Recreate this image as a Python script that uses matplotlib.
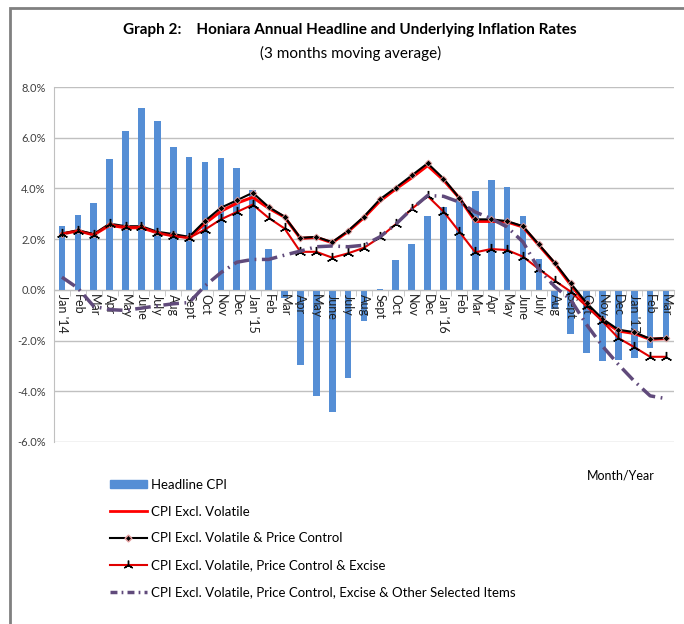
import matplotlib.pyplot as plt
import numpy as np
from matplotlib.lines import Line2D
from matplotlib.patches import Rectangle
import matplotlib.ticker as ticker

plt.rcParams['font.family'] = ['Lato', 'DejaVu Sans']

months = ["Jan '14", 'Feb', 'Mar', 'Apr', 'May', 'June', 'July', 'Aug', 'Sept', 'Oct', 'Nov', 'Dec',
          "Jan '15", 'Feb', 'Mar', 'Apr', 'May', 'June', 'July', 'Aug', 'Sept', 'Oct', 'Nov', 'Dec',
          "Jan '16", 'Feb', 'Mar', 'Apr', 'May', 'June', 'July', 'Aug', 'Sept', 'Oct', 'Nov', 'Dec',
          "Jan '17", 'Feb', 'Mar']

headline = [2.50, 2.94, 3.44, 5.15, 6.27, 7.16, 6.65, 5.63, 5.25, 5.06, 5.20, 4.81,
            3.92, 1.63, -0.33, -2.97, -4.18, -4.80, -3.49, -1.24, 0.03, 1.18, 1.82, 2.93,
            3.25, 3.60, 3.88, 4.35, 4.04, 2.90, 1.23, -0.76, -1.74, -2.50, -2.80, -2.78,
            -2.68, -2.28, -1.92]

excl_volatile = [2.20, 2.33, 2.17, 2.55, 2.45, 2.45, 2.25, 2.13, 2.06, 2.62, 3.10, 3.42,
                 3.65, 3.22, 2.87, 2.03, 2.07, 1.86, 2.30, 2.85, 3.50, 3.98, 4.42, 4.90,
                 4.33, 3.62, 2.70, 2.70, 2.68, 2.48, 1.76, 1.04, 0.20, -0.58, -1.20, -1.62,
                 -1.72, -1.95, -1.92]

excl_vol_pc = [2.22, 2.35, 2.20, 2.61, 2.51, 2.51, 2.29, 2.20, 2.09, 2.72, 3.24, 3.53,
               3.83, 3.27, 2.89, 2.05, 2.09, 1.88, 2.33, 2.89, 3.57, 4.03, 4.51, 4.99,
               4.39, 3.62, 2.78, 2.78, 2.71, 2.51, 1.79, 1.07, 0.26, -0.52, -1.14, -1.57,
               -1.67, -1.93, -1.90]

excl_vol_pc_exc = [2.22, 2.33, 2.17, 2.58, 2.48, 2.48, 2.26, 2.13, 2.05, 2.38, 2.78, 3.07,
                   3.36, 2.84, 2.42, 1.50, 1.50, 1.27, 1.44, 1.66, 2.07, 2.59, 3.19, 3.70,
                   3.09, 2.29, 1.48, 1.61, 1.57, 1.31, 0.82, 0.36, -0.07, -0.65, -1.24, -1.90,
                   -2.26, -2.64, -2.64]

excl_all = [0.50, 0.07, -0.65, -0.78, -0.81, -0.72, -0.63, -0.55, -0.50, 0.16, 0.68, 1.09,
            1.20, 1.20, 1.37, 1.53, 1.70, 1.73, 1.70, 1.76, 2.09, 2.59, 3.19, 3.72,
            3.69, 3.46, 3.07, 2.81, 2.48, 1.89, 0.81, 0.13, -0.39, -1.37, -2.22, -2.94,
            -3.60, -4.18, -4.29]

x = np.arange(len(months))

fig = plt.figure(figsize=(6.84, 6.24), dpi=100)
ax = fig.add_axes([54/684, 1-442/624, 620/684, 355/624])

# 막대 + 선
ax.bar(x, headline, width=0.42, color='#558ED5', zorder=2)
ax.plot(x, excl_volatile, color='#FF0000', lw=2.2, zorder=7)
ax.plot(x, excl_vol_pc, color='black', lw=1.5, marker='D', ms=3.5,
        mfc='black', mec='#E8A0A0', mew=0.6, zorder=8)
ax.plot(x, excl_vol_pc_exc, color='#E00000', lw=1.5, marker=(3, 2, 0), ms=8,
        mec='black', mew=1.0, zorder=8)
ax.plot(x, excl_all, color='#604A7B', lw=2.5, dashes=(4.5, 1.6, 0.5, 1.6), zorder=9)

ax.set_xlim(-0.5, len(months) - 0.5)
ax.set_ylim(-6, 8)
ax.set_yticks(np.arange(-6, 9, 2))
ax.yaxis.set_major_formatter(ticker.FuncFormatter(lambda v, p: f'{v:.1f}%'))
ax.tick_params(axis='y', length=0, labelsize=8, colors='#404040', pad=6)
ax.grid(axis='y', color='#C0C0C0', lw=1, zorder=0)

for s in ['top', 'right']:
    ax.spines[s].set_visible(False)
ax.spines['left'].set_color('#C0C0C0')
ax.spines['bottom'].set_position(('data', 0))
ax.spines['bottom'].set_color('#C0C0C0')

ax.set_xticks(x)
ax.set_xticklabels(months, rotation=-90, fontsize=9, color='#202020')
ax.set_xticks(np.arange(-0.5, len(months), 1), minor=True)
ax.tick_params(axis='x', which='major', length=0, pad=3)
ax.tick_params(axis='x', which='minor', length=4, color='#C0C0C0')
# 라벨이 막대 위에 보이도록
ax.xaxis.set_zorder(5)

fig.text(0.512, 1-30/624, 'Graph 2:    Honiara Annual Headline and Underlying Inflation Rates',
         ha='center', va='center', fontsize=11, fontweight='bold')
fig.text(0.512, 1-53/624, '(3 months moving average)', ha='center', va='center', fontsize=11)
fig.text(655/684, 1-476/624, 'Month/Year', ha='right', va='center', fontsize=9)

handles = [
    Rectangle((0, 0), 1, 1, color='#558ED5'),
    Line2D([], [], color='#FF0000', lw=2),
    Line2D([], [], color='black', lw=1.5, marker='D', ms=3.5, mfc='black', mec='#E8A0A0'),
    Line2D([], [], color='#E00000', lw=1.5, marker=(3, 2, 0), ms=7, mec='black'),
    Line2D([], [], color='#604A7B', lw=2.5, dashes=(2, 1.2, 0.5, 1.2)),
]
labels = ['Headline CPI', 'CPI Excl. Volatile', 'CPI Excl. Volatile & Price Control',
          'CPI Excl. Volatile, Price Control & Excise',
          'CPI Excl. Volatile, Price Control, Excise & Other Selected Items']
fig.legend(handles, labels, loc='upper left', bbox_to_anchor=(98/684, 1-467/624),
           frameon=False, fontsize=9.5, labelspacing=1.12, handlelength=2.8,
           handletextpad=0.3, handleheight=0.5)

# 바깥 테두리
fig.add_artist(Rectangle((10/684, -0.05), 1.1, 1-8/624+0.05, transform=fig.transFigure,
                         fill=False, ec='#808080', lw=2))

fig.savefig('out.png', dpi=100)
